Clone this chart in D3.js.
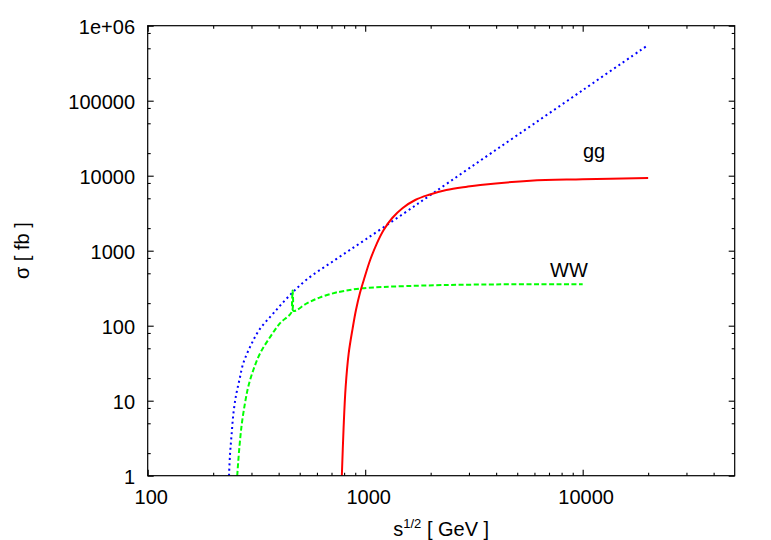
<!DOCTYPE html>
<html>
<head>
<meta charset="utf-8">
<script src="https://cdn.jsdelivr.net/npm/d3@7"></script>
<style>
  html, body { margin: 0; padding: 0; background: #fff; }
  svg { display: block; }
</style>
</head>
<body>
<svg id="chart" width="771" height="540"></svg>
<script>
// ---- data ----
const xMajorTicks = [100, 1000, 10000];
const xMajorLabels = ["100", "1000", "10000"];
const xMinorTicks = [200,300,400,500,600,700,800,900,2000,3000,4000,5000,6000,7000,8000,9000,20000,30000,40000];
const yMajorTicks = [1, 10, 100, 1000, 10000, 100000, 1000000];
const yMajorLabels = ["1", "10", "100", "1000", "10000", "100000", "1e+06"];
const yMinorTicks = [2,5,8,20,50,80,200,500,800,2000,5000,8000,20000,50000,80000,200000,500000,800000];

// blue dotted (no label)
const blueE = [236.5, 239, 243, 248, 255, 264, 275, 296, 326, 378, 444, 535, 730, 1000, 1500, 2000, 3000, 5000, 10000, 20000];
const blueS = [1, 1.9, 3.5, 6.9, 11.9, 18.9, 31.5, 52.5, 88, 146, 244, 407, 760, 1400, 3120, 5550, 12500, 34600, 138000, 553000];

// WW (green dashed)
const wwE = [258, 264, 271, 280, 290, 306, 329, 366, 406, 460, 464, 468, 539, 621, 728, 767, 966, 1556, 3400, 10000];
const wwS = [1, 2.4, 5.0, 9.2, 15.4, 25.7, 43, 71, 108, 154, 295, 158, 199, 239, 275, 284, 315, 338, 354, 357];

// gg (red solid)
const ggE = [781, 795, 813, 840, 876, 907, 946, 995, 1054, 1132, 1216, 1332, 1488, 1698, 1950, 2360, 2938, 3382, 5744, 10000, 20000];
const ggS = [1, 4.1, 15.2, 43, 93, 162, 273, 446, 751, 1255, 1888, 2730, 3710, 4740, 5530, 6445, 7130, 7516, 8580, 8950, 9317];

const seriesNames = ["gg", "WW"];

// ---- drawing ----
const svg = d3.select("#chart");
const L = 147.7, R = 734.7, T = 25.7, B = 475.7;
const x = d3.scaleLog().domain([100, 50000]).range([L, R]);
const y = d3.scaleLog().domain([1, 1e6]).range([B, T]);
const FONT = "'Liberation Sans', Arial, Helvetica, sans-serif";

svg.append("defs").append("clipPath").attr("id", "clip")
  .append("rect").attr("x", L).attr("y", T).attr("width", R - L).attr("height", B - T);

function styleAxis(g, showText) {
  g.select(".domain").remove();
  g.selectAll(".tick line").attr("stroke", "#000").attr("stroke-width", 1.1);
  g.selectAll(".tick text").attr("font-family", FONT).attr("font-size", 20).attr("fill", "#000");
  if (!showText) g.selectAll(".tick text").remove();
}

// bottom
svg.append("g").attr("transform", `translate(0,${B})`)
  .call(d3.axisBottom(x).tickValues(xMajorTicks).tickFormat((d, i) => xMajorLabels[i]).tickSizeInner(-6).tickSizeOuter(0).tickPadding(14))
  .call(g => styleAxis(g, true))
  .call(g => g.selectAll(".tick text").attr("dx", 3));
svg.append("g").attr("transform", `translate(0,${B})`)
  .call(d3.axisBottom(x).tickValues(xMinorTicks).tickFormat("").tickSizeInner(-3).tickSizeOuter(0))
  .call(g => styleAxis(g, false));
// top
svg.append("g").attr("transform", `translate(0,${T})`)
  .call(d3.axisTop(x).tickValues(xMajorTicks).tickFormat("").tickSizeInner(-6).tickSizeOuter(0))
  .call(g => styleAxis(g, false));
svg.append("g").attr("transform", `translate(0,${T})`)
  .call(d3.axisTop(x).tickValues(xMinorTicks).tickFormat("").tickSizeInner(-3).tickSizeOuter(0))
  .call(g => styleAxis(g, false));
// left
svg.append("g").attr("transform", `translate(${L},0)`)
  .call(d3.axisLeft(y).tickValues(yMajorTicks).tickFormat((d, i) => yMajorLabels[i]).tickSizeInner(-6).tickSizeOuter(0).tickPadding(12.7))
  .call(g => styleAxis(g, true))
  .call(g => g.selectAll(".tick text").attr("dy", "0.4em"));
svg.append("g").attr("transform", `translate(${L},0)`)
  .call(d3.axisLeft(y).tickValues(yMinorTicks).tickFormat("").tickSizeInner(-3).tickSizeOuter(0))
  .call(g => styleAxis(g, false));
// right
svg.append("g").attr("transform", `translate(${R},0)`)
  .call(d3.axisRight(y).tickValues(yMajorTicks).tickFormat("").tickSizeInner(-6).tickSizeOuter(0))
  .call(g => styleAxis(g, false));
svg.append("g").attr("transform", `translate(${R},0)`)
  .call(d3.axisRight(y).tickValues(yMinorTicks).tickFormat("").tickSizeInner(-3).tickSizeOuter(0))
  .call(g => styleAxis(g, false));

// curves
const line = d3.line().x(d => x(d[0])).y(d => y(d[1])).curve(d3.curveCatmullRom.alpha(0.5));
const plot = svg.append("g").attr("clip-path", "url(#clip)");

plot.append("path").datum(blueE.map((e, i) => [e, blueS[i]]))
  .attr("d", line).attr("fill", "none").attr("stroke", "#0000ff")
  .attr("stroke-width", 2).attr("stroke-dasharray", "2,3.2");

plot.append("path").datum(wwE.map((e, i) => [e, wwS[i]]))
  .attr("d", line).attr("fill", "none").attr("stroke", "#00ff00")
  .attr("stroke-width", 2).attr("stroke-dasharray", "5,2.5");

plot.append("path").datum(ggE.map((e, i) => [e, ggS[i]]))
  .attr("d", line).attr("fill", "none").attr("stroke", "#ff0000")
  .attr("stroke-width", 2);

// frame
svg.append("rect").attr("x", L).attr("y", T).attr("width", R - L).attr("height", B - T)
  .attr("fill", "none").attr("stroke", "#000").attr("stroke-width", 1.2);

// series labels
svg.append("text").attr("x", 594).attr("y", 158).attr("text-anchor", "middle")
  .attr("font-family", FONT).attr("font-size", 20).text(seriesNames[0]);
svg.append("text").attr("x", 569).attr("y", 276.5).attr("text-anchor", "middle")
  .attr("font-family", FONT).attr("font-size", 20).text(seriesNames[1]);

// axis titles
const xt = svg.append("text").attr("x", (L + R) / 2).attr("y", 535.5).attr("text-anchor", "middle")
  .attr("font-family", FONT).attr("font-size", 20);
xt.append("tspan").text("s");
xt.append("tspan").attr("font-size", 13).attr("dy", -8).text("1/2");
xt.append("tspan").attr("dy", 8).text(" [ GeV ]");

svg.append("text").attr("transform", `translate(29,${(T + B) / 2}) rotate(-90)`)
  .attr("text-anchor", "middle").attr("font-family", FONT).attr("font-size", 20)
  .text("σ [ fb ]");
</script>
</body>
</html>
